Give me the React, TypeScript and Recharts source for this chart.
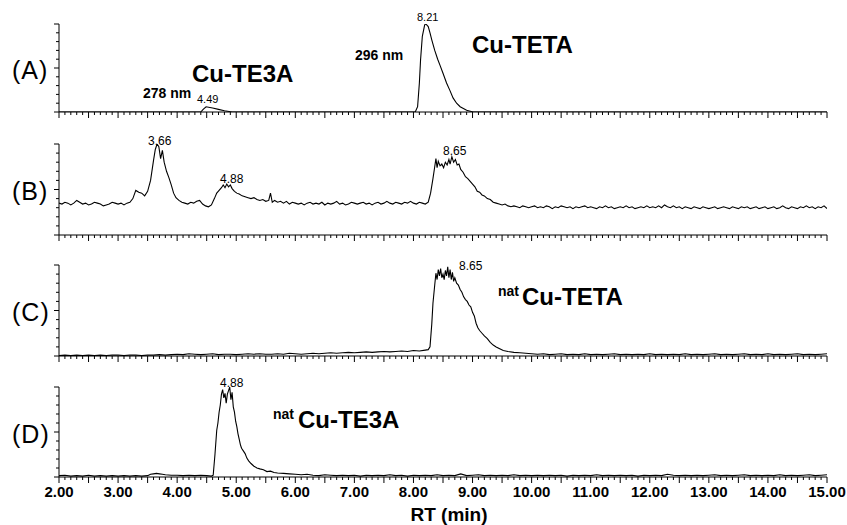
import React from 'react';
import { LineChart, Line, XAxis, YAxis } from 'recharts';

const FONT = '"Liberation Sans", Arial, Helvetica, sans-serif';

// Retention time (min), relative intensity (% of panel height)
const traceA: [number, number][] = [
  [2.0, 0], [4.4, 0], [4.44, 3], [4.49, 6], [4.6, 4.5], [4.7, 3], [4.8, 1.5], [4.93, 0],
  [8.03, 0], [8.07, 6], [8.1, 33], [8.12, 59], [8.15, 86], [8.19, 99], [8.21, 100], [8.25, 97],
  [8.28, 90], [8.31, 82], [8.36, 70], [8.41, 60], [8.45, 53], [8.5, 44], [8.56, 33], [8.62, 24],
  [8.67, 16], [8.73, 10], [8.79, 6], [8.9, 2], [9.01, 0], [15.0, 0],
];

const traceB: [number, number][] = [
  [2.0, 35], [2.05, 34], [2.1, 36], [2.15, 35], [2.2, 33], [2.25, 35], [2.3, 38], [2.35, 36], [2.4, 34], [2.45, 35],
  [2.5, 33], [2.55, 34], [2.6, 36], [2.65, 35], [2.7, 34], [2.75, 32], [2.8, 33], [2.85, 34], [2.9, 36], [2.95, 35],
  [3.0, 34], [3.05, 35], [3.1, 33], [3.15, 35], [3.2, 36],
  [3.25, 40], [3.3, 49], [3.35, 47], [3.4, 46], [3.45, 43], [3.5, 48], [3.55, 60], [3.6, 82], [3.63, 94], [3.66, 100],
  [3.69, 97], [3.72, 84], [3.75, 93], [3.78, 80], [3.82, 70], [3.86, 63], [3.9, 55], [3.94, 46], [3.98, 41], [4.03, 38],
  [4.08, 36], [4.13, 35], [4.18, 34], [4.23, 36], [4.28, 35], [4.33, 37], [4.38, 38], [4.43, 34], [4.48, 32], [4.53, 31], [4.58, 33],
  [4.63, 40], [4.67, 46], [4.71, 49], [4.75, 52], [4.78, 55], [4.81, 52], [4.84, 56], [4.87, 53], [4.9, 55], [4.93, 51],
  [4.97, 48], [5.01, 46], [5.05, 45], [5.1, 43], [5.15, 42], [5.2, 41], [5.25, 40], [5.3, 41], [5.35, 39], [5.4, 38],
  [5.45, 39], [5.5, 37], [5.55, 38], [5.58, 46], [5.61, 36], [5.65, 38], [5.7, 36], [5.75, 37], [5.8, 35], [5.85, 37],
  [5.9, 34], [5.95, 36], [6.0, 35],
  [6.05, 34], [6.1, 35], [6.15, 33], [6.2, 35], [6.25, 36], [6.3, 34], [6.35, 35], [6.4, 34], [6.45, 36], [6.5, 33],
  [6.55, 35], [6.6, 34], [6.65, 35], [6.7, 37], [6.75, 34], [6.8, 35], [6.85, 33], [6.9, 34], [6.95, 36], [7.0, 35],
  [7.05, 34], [7.1, 35], [7.15, 36], [7.2, 34], [7.25, 35], [7.3, 33], [7.35, 35], [7.4, 36], [7.45, 34], [7.5, 35],
  [7.55, 37], [7.6, 35], [7.65, 34], [7.7, 36], [7.75, 35], [7.8, 34], [7.85, 36], [7.9, 35], [7.95, 37], [8.0, 35],
  [8.05, 34], [8.1, 36], [8.15, 35], [8.2, 34],
  [8.25, 36], [8.29, 46], [8.33, 62], [8.36, 75], [8.38, 84], [8.4, 74], [8.42, 81], [8.45, 76], [8.48, 78], [8.51, 74],
  [8.54, 80], [8.57, 77], [8.6, 83], [8.62, 78], [8.65, 86], [8.68, 80], [8.71, 83], [8.74, 77], [8.77, 78], [8.8, 72],
  [8.84, 69], [8.88, 64], [8.92, 62], [8.96, 59], [9.0, 56], [9.04, 53], [9.08, 48], [9.12, 47], [9.16, 44], [9.2, 43],
  [9.25, 40], [9.3, 39], [9.35, 36], [9.4, 35], [9.45, 34], [9.5, 33], [9.55, 34], [9.6, 32],
  [9.65, 31], [9.7, 32], [9.75, 31], [9.8, 30], [9.85, 32], [9.9, 31], [9.95, 30], [10.0, 31], [10.05, 32], [10.1, 30],
  [10.15, 31], [10.2, 30], [10.25, 32], [10.3, 31], [10.35, 29], [10.4, 31], [10.45, 30], [10.5, 32], [10.55, 31], [10.6, 30],
  [10.65, 31], [10.7, 29], [10.75, 31], [10.8, 30], [10.85, 31], [10.9, 32], [10.95, 30], [11.0, 31], [11.05, 30], [11.1, 29],
  [11.15, 31], [11.2, 30], [11.25, 32], [11.3, 30], [11.35, 31], [11.4, 29], [11.45, 30], [11.5, 31], [11.55, 30], [11.6, 32],
  [11.65, 30], [11.7, 31], [11.75, 29], [11.8, 30], [11.85, 31], [11.9, 30], [11.95, 32], [12.0, 30], [12.05, 31], [12.1, 30],
  [12.15, 32], [12.2, 30], [12.25, 33], [12.3, 31], [12.35, 30], [12.4, 32], [12.45, 30], [12.5, 31], [12.55, 29], [12.6, 31],
  [12.65, 30], [12.7, 29], [12.75, 31], [12.8, 30], [12.85, 29], [12.9, 31], [12.95, 30], [13.0, 29], [13.05, 30], [13.1, 31],
  [13.15, 29], [13.2, 30], [13.25, 31], [13.3, 30], [13.35, 29], [13.4, 31], [13.45, 30], [13.5, 29], [13.55, 31], [13.6, 30],
  [13.65, 31], [13.7, 29], [13.75, 30], [13.8, 31], [13.85, 29], [13.9, 30], [13.95, 31], [14.0, 29], [14.05, 30], [14.1, 31],
  [14.15, 29], [14.2, 30], [14.25, 32], [14.3, 30], [14.35, 29], [14.4, 31], [14.45, 30], [14.5, 29], [14.55, 31], [14.6, 30],
  [14.65, 32], [14.7, 30], [14.75, 31], [14.8, 29], [14.85, 31], [14.9, 30], [14.95, 32], [15.0, 29],
];

const traceC: [number, number][] = [
  [2.0, 0.5], [2.1, 1], [2.2, 0.5], [2.3, 1], [2.4, 0.5], [2.5, 1], [2.6, 0.5], [2.7, 1], [2.8, 0.5], [2.9, 1],
  [3.0, 1], [3.1, 0.5], [3.2, 1], [3.3, 1], [3.4, 0.5], [3.5, 1], [3.6, 1], [3.7, 1.5], [3.8, 1], [3.9, 1.5],
  [4.0, 2], [4.1, 1.5], [4.2, 2.5], [4.3, 2], [4.4, 1.5], [4.5, 2], [4.6, 2.5], [4.7, 1.5], [4.8, 2], [4.9, 2],
  [5.0, 1.5], [5.1, 2], [5.2, 2.5], [5.3, 2], [5.4, 2.5], [5.5, 2], [5.6, 2], [5.7, 2.5], [5.8, 2], [5.9, 3],
  [6.0, 2.5], [6.1, 2], [6.2, 2.5], [6.3, 3], [6.4, 2.5], [6.5, 3], [6.6, 3.5], [6.7, 3], [6.8, 3.5], [6.9, 4],
  [7.0, 3.5], [7.1, 4], [7.2, 4.5], [7.3, 4], [7.4, 4.5], [7.5, 5], [7.6, 4.5], [7.7, 5], [7.8, 5.5], [7.9, 5],
  [8.0, 6], [8.1, 5.5], [8.2, 6.5], [8.25, 7], [8.28, 10], [8.31, 35], [8.33, 58], [8.36, 78], [8.38, 91], [8.4, 84],
  [8.42, 95], [8.44, 88], [8.46, 96], [8.48, 86], [8.5, 90], [8.52, 84], [8.54, 94], [8.56, 88], [8.58, 98], [8.6, 86],
  [8.62, 95], [8.64, 84], [8.66, 92], [8.68, 82], [8.7, 86], [8.73, 80], [8.76, 78], [8.79, 73], [8.82, 70], [8.85, 65],
  [8.88, 62], [8.91, 60], [8.94, 56], [8.97, 54], [9.0, 48], [9.03, 44], [9.06, 36], [9.09, 31], [9.12, 28], [9.16, 25],
  [9.2, 22], [9.25, 19], [9.3, 15], [9.35, 12], [9.4, 10], [9.46, 8], [9.52, 6], [9.6, 5], [9.7, 4], [9.8, 3.5],
  [9.9, 3], [10.0, 2.5], [10.1, 2], [10.2, 2.5], [10.3, 1.5], [10.4, 2], [10.5, 2.5], [10.6, 1.5], [10.7, 2], [10.8, 1.5],
  [10.9, 2.5], [11.0, 1.5], [11.1, 2], [11.2, 1.5], [11.3, 2], [11.4, 2.5], [11.5, 1.5], [11.6, 2], [11.7, 1.5], [11.8, 2],
  [11.9, 1.5], [12.0, 2.5], [12.1, 1.5], [12.2, 2], [12.3, 1.5], [12.4, 2], [12.5, 1.5], [12.6, 2.5], [12.7, 1.5], [12.8, 2],
  [12.9, 1.5], [13.0, 2], [13.1, 2.5], [13.2, 1.5], [13.3, 2], [13.4, 1.5], [13.5, 2], [13.6, 2.5], [13.7, 1.5], [13.8, 2],
  [13.9, 1.5], [14.0, 2.5], [14.1, 1.5], [14.2, 2], [14.3, 1.5], [14.4, 2], [14.5, 2.5], [14.6, 1.5], [14.7, 2], [14.8, 1.5],
  [14.9, 2], [15.0, 2.5],
];

const traceD: [number, number][] = [
  [2.0, 1.5], [2.1, 2], [2.2, 1], [2.3, 1.5], [2.4, 1], [2.5, 2], [2.6, 1], [2.7, 1.5], [2.8, 1], [2.9, 1.5],
  [3.0, 1], [3.1, 1.5], [3.2, 1], [3.3, 1.5], [3.4, 1], [3.5, 1.5], [3.55, 3], [3.6, 3.5], [3.65, 4], [3.7, 3.5],
  [3.75, 3], [3.8, 2.5], [3.9, 2], [4.0, 2], [4.1, 1.5], [4.2, 2], [4.3, 1.5], [4.4, 2], [4.5, 1.5], [4.58, 1],
  [4.61, 2], [4.64, 25], [4.67, 52], [4.69, 60], [4.71, 72], [4.73, 80], [4.75, 92], [4.77, 97], [4.79, 88], [4.81, 93],
  [4.83, 82], [4.85, 92], [4.87, 96], [4.89, 100], [4.91, 86], [4.93, 94], [4.95, 78], [4.97, 72], [4.99, 62], [5.01, 56],
  [5.03, 48], [5.05, 42], [5.07, 36], [5.09, 32], [5.12, 29], [5.15, 26], [5.18, 21], [5.21, 18], [5.25, 15], [5.3, 12],
  [5.35, 10], [5.4, 9], [5.46, 8], [5.52, 6], [5.58, 6.5], [5.64, 5], [5.7, 4.5], [5.8, 4], [5.9, 3.5], [6.0, 3],
  [6.1, 2.5], [6.2, 3],
  [6.3, 2], [6.4, 1.5], [6.5, 2.5], [6.6, 2], [6.7, 1.5], [6.8, 2], [6.9, 1.5], [7.0, 2], [7.1, 1], [7.2, 2],
  [7.3, 1.5], [7.4, 2], [7.5, 1.5], [7.6, 2.5], [7.7, 1.5], [7.8, 2], [7.9, 1], [8.0, 2], [8.1, 1.5], [8.2, 2],
  [8.3, 1.5], [8.4, 2.5], [8.5, 1.5], [8.6, 2], [8.7, 1.5], [8.8, 3.5], [8.9, 1.5], [9.0, 2], [9.1, 2.5], [9.2, 1.5],
  [9.3, 2], [9.4, 1.5], [9.5, 2], [9.6, 1.5], [9.7, 2.5], [9.8, 1.5], [9.9, 2], [10.0, 1.5], [10.1, 2], [10.2, 1.5],
  [10.3, 2], [10.4, 1.5], [10.5, 2], [10.6, 1], [10.7, 2], [10.8, 1.5], [10.9, 2], [11.0, 1.5], [11.1, 2.5], [11.2, 1.5],
  [11.3, 2], [11.4, 1.5], [11.5, 2], [11.6, 1.5], [11.7, 2], [11.8, 1], [11.9, 2], [12.0, 1.5], [12.1, 2], [12.2, 1.5],
  [12.3, 3], [12.4, 2], [12.5, 1.5], [12.6, 2], [12.7, 1.5], [12.8, 2], [12.9, 1.5], [13.0, 2], [13.1, 2.5], [13.2, 1.5],
  [13.3, 2], [13.4, 1.5], [13.5, 2], [13.6, 2.5], [13.7, 1.5], [13.8, 2], [13.9, 1.5], [14.0, 2], [14.1, 1.5], [14.2, 2.5],
  [14.3, 1.5], [14.4, 2], [14.5, 1.5], [14.6, 2], [14.7, 2.5], [14.8, 1.5], [14.9, 2], [15.0, 2.5],
];

const xLabelValues = [2, 3, 4, 5, 6, 7, 8, 9, 10, 11, 12, 13, 14, 15];
const xMinorTicks = Array.from({ length: 131 }, (_, i) => Math.round((2 + i * 0.1) * 10) / 10);
const yTicks = [0, 10, 20, 30, 40, 50, 60, 70, 80, 90, 100];

const panels = [
  { id: 'A', top: 24, height: 88, trace: traceA },
  { id: 'B', top: 144, height: 91, trace: traceB },
  { id: 'C', top: 265, height: 91, trace: traceC },
  { id: 'D', top: 387, height: 90, trace: traceD },
];

const MARGIN_TOP = 10;
const XAXIS_H = 30;

const makeXTick = (showLabels: boolean) => (props: any) => {
  const { x, y, payload } = props;
  const v = payload.value as number;
  const isHalf = Math.abs(v * 2 - Math.round(v * 2)) < 1e-6;
  const isInt = Math.abs(v - Math.round(v)) < 1e-6;
  const len = isHalf ? 6 : 3;
  return (
    <g>
      <line x1={x} x2={x} y1={y} y2={y + len} stroke="#000" strokeWidth={1} />
      {showLabels && isInt && xLabelValues.includes(Math.round(v)) && (
        <text x={x} y={y + 20} textAnchor="middle" fontFamily={FONT} fontWeight="bold" fontSize={15} fill="#000">
          {v.toFixed(2)}
        </text>
      )}
    </g>
  );
};

const YTick = (props: any) => {
  const { x, y, payload } = props;
  const v = payload.value as number;
  const major = v === 0 || v === 50 || v === 100;
  const len = major ? 5 : 3;
  return <line x1={x} x2={x - len} y1={y} y2={y} stroke="#000" strokeWidth={1} />;
};

const txt = (x: number, y: number, s: string, size: number, bold = false, extra: any = {}) => (
  <text x={x} y={y} fontFamily={FONT} fontSize={size} fontWeight={bold ? 'bold' : 'normal'} fill="#000" {...extra}>
    {s}
  </text>
);

export default function App() {
  return (
    <div style={{ position: 'absolute', left: 0, top: 0, width: 847, height: 525, background: '#fff', overflow: 'hidden' }}>
      {panels.map((p, idx) => {
        const data = p.trace.map(([t, v]) => ({ t, v }));
        const last = idx === panels.length - 1;
        return (
          <div key={p.id} style={{ position: 'absolute', left: 0, top: p.top - MARGIN_TOP }}>
            <LineChart
              width={847}
              height={MARGIN_TOP + p.height + XAXIS_H}
              data={data}
              margin={{ top: MARGIN_TOP, right: 20, bottom: 0, left: 0 }}
            >
              <XAxis
                dataKey="t"
                type="number"
                domain={[2, 15]}
                ticks={xMinorTicks}
                interval={0}
                tickSize={0}
                tickMargin={0}
                tickLine={false}
                axisLine={{ stroke: '#000', strokeWidth: 1 }}
                tick={makeXTick(last)}
                height={XAXIS_H}
                allowDataOverflow
              />
              <YAxis
                type="number"
                domain={[0, 100]}
                ticks={yTicks}
                interval={0}
                tickSize={0}
                tickMargin={0}
                tickLine={false}
                axisLine={{ stroke: '#000', strokeWidth: 1 }}
                tick={YTick}
                width={59}
                allowDataOverflow
              />
              <Line
                type="linear"
                dataKey="v"
                stroke="#000"
                strokeWidth={1.1}
                dot={false}
                activeDot={false}
                isAnimationActive={false}
              />
            </LineChart>
          </div>
        );
      })}
      <svg width={847} height={525} style={{ position: 'absolute', left: 0, top: 0, pointerEvents: 'none' }}>
        {txt(12, 79, '(A)', 25, false, { letterSpacing: 1 })}
        {txt(12, 200, '(B)', 25, false, { letterSpacing: 1 })}
        {txt(12, 321, '(C)', 25, false, { letterSpacing: 1 })}
        {txt(12, 443, '(D)', 25, false, { letterSpacing: 1 })}

        {txt(143, 98, '278 nm', 14, true)}
        {txt(197, 103, '4.49', 11)}
        {txt(192, 82, 'Cu-TE3A', 24, true)}
        {txt(355, 60, '296 nm', 14, true)}
        {txt(417, 21, '8.21', 11)}
        {txt(472, 53, 'Cu-TETA', 24, true)}

        {txt(148, 145, '3.66', 12)}
        {txt(220, 183, '4.88', 12)}
        {txt(443, 155, '8.65', 12)}

        {txt(459, 270, '8.65', 12)}
        {txt(498, 296, 'nat', 14, true)}
        {txt(522, 305, 'Cu-TETA', 24, true)}

        {txt(220, 387, '4.88', 12)}
        {txt(273, 419, 'nat', 14, true)}
        {txt(298, 428, 'Cu-TE3A', 24, true)}

        {txt(449, 521, 'RT (min)', 19, true, { textAnchor: 'middle' })}
      </svg>
    </div>
  );
}
